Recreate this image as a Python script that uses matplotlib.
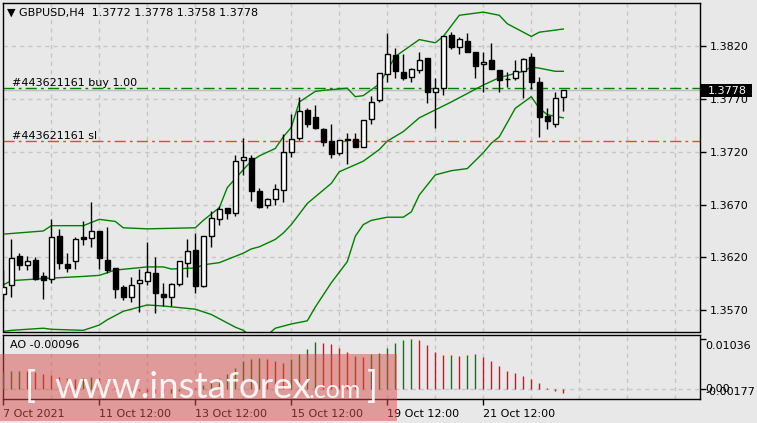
import matplotlib
matplotlib.use('Agg')
import matplotlib.pyplot as plt
from matplotlib.patches import Rectangle
import numpy as np

# H4 candles, GBPUSD
opens = [1.3585, 1.3594, 1.3621, 1.3613, 1.3618, 1.3602, 1.3600, 1.3640, 1.3614, 1.3617,
         1.3639, 1.3638, 1.3645, 1.3618, 1.3610, 1.3592, 1.3583, 1.3596, 1.3598, 1.3605,
         1.3585, 1.3583, 1.3595, 1.3615, 1.3627, 1.3593, 1.3640, 1.3656, 1.3667, 1.3662,
         1.3712, 1.3714, 1.3683, 1.3670, 1.3675, 1.3684, 1.3720, 1.3733, 1.3759, 1.3753,
         1.3741, 1.3730, 1.3719, 1.3732, 1.3732, 1.3724, 1.3751, 1.3769, 1.3793, 1.3811,
         1.3795, 1.3791, 1.3797, 1.3809, 1.3776, 1.3780, 1.3830, 1.3819, 1.3825, 1.3814,
         1.3803, 1.3807, 1.3797, 1.3789, 1.3790, 1.3796, 1.3810, 1.3786, 1.3754, 1.3746,
         1.3772]
highs = [1.3608, 1.3637, 1.3624, 1.3621, 1.3620, 1.3606, 1.3656, 1.3647, 1.3624, 1.3639,
         1.3654, 1.3672, 1.3645, 1.3649, 1.3610, 1.3594, 1.3601, 1.3609, 1.3635, 1.3620,
         1.3596, 1.3596, 1.3617, 1.3637, 1.3643, 1.3640, 1.3664, 1.3669, 1.3667, 1.3717,
         1.3733, 1.3717, 1.3686, 1.3676, 1.3689, 1.3737, 1.3756, 1.3772, 1.3761, 1.3764,
         1.3742, 1.3746, 1.3731, 1.3738, 1.3738, 1.3750, 1.3773, 1.3794, 1.3832, 1.3818,
         1.3812, 1.3799, 1.3814, 1.3809, 1.3790, 1.3829, 1.3833, 1.3828, 1.3832, 1.3814,
         1.3814, 1.3823, 1.3797, 1.3795, 1.3807, 1.3809, 1.3813, 1.3791, 1.3761, 1.3776,
         1.3778]
lows = [1.3580, 1.3583, 1.3608, 1.3608, 1.3599, 1.3581, 1.3596, 1.3609, 1.3606, 1.3609,
        1.3632, 1.3630, 1.3609, 1.3605, 1.3582, 1.3580, 1.3578, 1.3568, 1.3594, 1.3567,
        1.3574, 1.3574, 1.3593, 1.3601, 1.3586, 1.3592, 1.3630, 1.3651, 1.3656, 1.3659,
        1.3698, 1.3673, 1.3667, 1.3667, 1.3670, 1.3672, 1.3715, 1.3731, 1.3743, 1.3741,
        1.3725, 1.3714, 1.3717, 1.3708, 1.3724, 1.3724, 1.3746, 1.3767, 1.3786, 1.3790,
        1.3788, 1.3786, 1.3794, 1.3766, 1.3742, 1.3774, 1.3817, 1.3812, 1.3814, 1.3790,
        1.3776, 1.3798, 1.3776, 1.3781, 1.3788, 1.3771, 1.3779, 1.3734, 1.3741, 1.3743,
        1.3758]
closes = [1.3592, 1.3619, 1.3613, 1.3617, 1.3600, 1.3599, 1.3639, 1.3615, 1.3610, 1.3637,
          1.3637, 1.3645, 1.3619, 1.3608, 1.3590, 1.3583, 1.3594, 1.3599, 1.3606, 1.3586,
          1.3583, 1.3595, 1.3617, 1.3626, 1.3593, 1.3640, 1.3657, 1.3666, 1.3662, 1.3711,
          1.3715, 1.3683, 1.3668, 1.3675, 1.3685, 1.3720, 1.3732, 1.3758, 1.3746, 1.3742,
          1.3729, 1.3718, 1.3731, 1.3731, 1.3724, 1.3750, 1.3767, 1.3794, 1.3812, 1.3796,
          1.3790, 1.3798, 1.3807, 1.3776, 1.3780, 1.3829, 1.3819, 1.3827, 1.3814, 1.3801,
          1.3805, 1.3798, 1.3788, 1.3789, 1.3796, 1.3808, 1.3786, 1.3753, 1.3749, 1.3771,
          1.3778]

# Bollinger bands (bar index, price)
upper_idx = [0, 5, 6, 10, 12, 14, 15, 18, 24, 25, 27, 28, 30, 31, 32, 34, 35, 36, 37, 39,
             40, 43, 44, 45, 47, 49, 52, 54, 55, 57, 60, 62, 63, 66, 67, 70]
upper_val = [1.3642, 1.3645, 1.3650, 1.3650, 1.3656, 1.3654, 1.3648, 1.3647, 1.3648, 1.3655,
             1.3667, 1.3686, 1.3703, 1.3711, 1.3716, 1.3723, 1.3734, 1.3743, 1.3767, 1.3777,
             1.3778, 1.3780, 1.3772, 1.3773, 1.3784, 1.3810, 1.3826, 1.3823, 1.3829, 1.3849,
             1.3852, 1.3849, 1.3841, 1.3829, 1.3833, 1.3836]
middle_idx = [0, 1, 5, 10, 12, 14, 18, 20, 21, 24, 25, 27, 30, 31, 32, 34, 35, 36, 38, 41,
              42, 45, 47, 48, 50, 52, 56, 60, 62, 65, 66, 67, 69, 70]
middle_val = [1.3594, 1.3598, 1.3600, 1.3602, 1.3603, 1.3608, 1.3611, 1.3611, 1.3609, 1.3610,
              1.3613, 1.3615, 1.3624, 1.3628, 1.3630, 1.3637, 1.3643, 1.3651, 1.3671, 1.3690,
              1.3701, 1.3711, 1.3722, 1.3730, 1.3739, 1.3752, 1.3767, 1.3783, 1.3790, 1.3796,
              1.3800, 1.3799, 1.3796, 1.3796]
lower_idx = [0, 1, 5, 6, 10, 12, 13, 15, 18, 20, 24, 26, 29, 30, 32, 34, 36, 38, 39, 41,
             43, 44, 45, 46, 48, 50, 51, 52, 54, 56, 58, 60, 61, 62, 64, 66, 67, 68, 70]
lower_val = [1.3550, 1.3551, 1.3553, 1.3552, 1.3551, 1.3556, 1.3561, 1.3569, 1.3575, 1.3574,
             1.3571, 1.3566, 1.3554, 1.3551, 1.3540, 1.3553, 1.3557, 1.3560, 1.3573, 1.3596,
             1.3616, 1.3640, 1.3651, 1.3655, 1.3658, 1.3658, 1.3663, 1.3679, 1.3698, 1.3702,
             1.3704, 1.3719, 1.3728, 1.3734, 1.3761, 1.3772, 1.3761, 1.3755, 1.3752]

# Awesome Oscillator
ao = [0.0034, 0.0036, 0.0037, 0.0036, 0.0034, 0.0031, 0.0028, 0.0024, 0.0021, 0.0019,
      0.0021, 0.0024, 0.0022, 0.0018, 0.0012, 0.0006, -0.0002, -0.0006, -0.0008, -0.0009,
      -0.0010, -0.0009, -0.0006, -0.0002, 0.0002, 0.0007, 0.0013, 0.0021, 0.0031, 0.0042,
      0.00575, 0.0061, 0.0063, 0.0061, 0.00575, 0.0053, 0.0061, 0.00721, 0.00826, 0.00975,
      0.0096, 0.00924, 0.00853, 0.00769, 0.00679, 0.00665, 0.00715, 0.00748, 0.00853, 0.00945,
      0.01014, 0.01036, 0.01014, 0.00909, 0.00769, 0.0069, 0.0071, 0.0068, 0.0069, 0.0072,
      0.0066, 0.0058, 0.0047, 0.0037, 0.0032, 0.0026, 0.0020, 0.0012, 0.0002, -0.0005,
      -0.00096]

time_idx = [0, 12, 24, 36, 48, 60]
time_labels = ['7 Oct 2021', '11 Oct 12:00', '13 Oct 12:00', '15 Oct 12:00',
               '19 Oct 12:00', '21 Oct 12:00']
price_ticks = [1.3570, 1.3620, 1.3670, 1.3720, 1.3770, 1.3820]

buy_price = 1.3780
sl_price = 1.3730
bid = 1.3778

BG = '#E8E8E8'
GRID = '#C6C6C6'
GREEN = '#008000'

fig = plt.figure(figsize=(7.57, 4.23), dpi=100, facecolor=BG)
W, H = 757.0, 423.0
ax = fig.add_axes([2.7 / W, 1 - 331.5 / H, 697.3 / W, 328.8 / H], facecolor=BG)
ax2 = fig.add_axes([2.7 / W, 1 - 399 / H, 697.3 / W, 64 / H], facecolor=BG)

n = len(opens)
xl = (-0.075, 87.09)

# grid
for a in (ax, ax2):
    for gx in range(6, 88, 6):
        a.axvline(gx, color=GRID, lw=1, ls=(0, (3, 3)), zorder=0)
for p in price_ticks:
    ax.axhline(p, color=GRID, lw=1, ls=(0, (3, 3)), zorder=0)

# bands
ax.plot(upper_idx, upper_val, color=GREEN, lw=1, zorder=2)
ax.plot(middle_idx, middle_val, color=GREEN, lw=1, zorder=2)
ax.plot(lower_idx, lower_val, color=GREEN, lw=1, zorder=2)

# candles
bw = 0.28
for i in range(n):
    o, h, l, c = opens[i], highs[i], lows[i], closes[i]
    ax.vlines(i, l, h, color='black', lw=1, zorder=3)
    lo, hi = min(o, c), max(o, c)
    fc = 'white' if c >= o else 'black'
    ax.add_patch(Rectangle((i - bw, lo), 2 * bw, hi - lo, facecolor=fc,
                           edgecolor='black', lw=1, zorder=4))

# order lines
ax.axhline(bid, color='#BEBEBE', lw=1, zorder=1)
ax.axhline(buy_price, color=GREEN, lw=1, ls=(0, (8, 3, 2, 3)), zorder=2)
ax.axhline(sl_price, color='#F04A14', lw=1, ls=(0, (8, 3, 2, 3)), zorder=2)
ax.text(1.1, buy_price + 0.00005, '#443621161 buy 1.00', fontsize=8, va='bottom', zorder=5)
ax.text(1.1, sl_price + 0.00005, '#443621161 sl', fontsize=8, va='bottom', zorder=5)

ax.set_xlim(*xl)
ax.set_ylim(1.35499, 1.38609)
ax.yaxis.tick_right()
ax.set_yticks(price_ticks)
ax.set_yticklabels(['%.4f' % p for p in price_ticks])
ax.tick_params(axis='y', direction='out', length=4, width=1, pad=3, labelsize=8, colors='black')
ax.set_xticks([])
for s in ax.spines.values():
    s.set_color('black')
    s.set_linewidth(1)

# current price box on the scale
fig.patches.append(Rectangle((701 / W, 1 - 97 / H), 51 / W, 13 / H, transform=fig.transFigure,
                             facecolor='black', edgecolor='none', zorder=10))
fig.text(727 / W, 1 - 90.5 / H, '1.3778', fontsize=8, color='white', ha='center',
         va='center', zorder=11)

fig.text(7 / W, 1 - 13 / H, '\u25BC GBPUSD,H4  1.3772 1.3778 1.3758 1.3778', fontsize=8,
         va='center', ha='left')

# AO panel
ao_col = [GREEN]
for i in range(1, n):
    ao_col.append(GREEN if ao[i] >= ao[i - 1] else '#FF0000')
ax2.vlines(range(n), 0, ao, colors=ao_col, lw=1, zorder=3)
ax2.axhline(0, color=GRID, lw=1, ls=(0, (3, 3)), zorder=0)
ax2.set_xlim(*xl)
ax2.set_ylim(-0.00219, 0.01118)
ax2.yaxis.tick_right()
ax2.set_yticks([0.01036, 0.0])
ax2.set_yticklabels([])
ax2.tick_params(axis='y', direction='out', length=4, width=1)
tr = ax2.get_yaxis_transform()
ax2.text(1.0 + 5 / 697.3, 0.0088, '0.01036', transform=tr, fontsize=8, va='center')
ax2.text(1.0 + 5 / 697.3, 0.0000, '0.00', transform=tr, fontsize=8, va='center')
ax2.text(1.0 + 5 / 697.3, -0.0007, '-0.00177', transform=tr, fontsize=8, va='center')
ax2.text(7 / 697.3, 0.85, 'AO -0.00096', transform=ax2.transAxes, fontsize=8, va='center')
ax2.set_xticks(time_idx)
ax2.set_xticklabels(time_labels)
ax2.tick_params(axis='x', direction='out', length=4, width=1, pad=3, labelsize=8)
for lbl in ax2.get_xticklabels():
    lbl.set_horizontalalignment('left')
for s in ax2.spines.values():
    s.set_color('black')
    s.set_linewidth(1)

# watermark
fig.patches.append(Rectangle((0, 1 - 421 / H), 397 / W, 67 / H, transform=fig.transFigure,
                             facecolor=(0.85, 0.30, 0.30, 0.5), edgecolor='none', zorder=20))
wm = dict(color='white', alpha=0.88, family=['Lato', 'Liberation Sans'], weight='normal',
          va='baseline', zorder=21)
fig.text(25 / W, 1 - 398 / H, '[', fontsize=26, **wm)
fig.text(54 / W, 1 - 398 / H, 'www.instaforex', fontsize=26.5, **wm)
fig.text(309 / W, 1 - 398 / H, '.com', fontsize=18, **wm)
fig.text(367 / W, 1 - 398 / H, ']', fontsize=26, **wm)

fig.savefig('out.png', dpi=100, facecolor=BG)
